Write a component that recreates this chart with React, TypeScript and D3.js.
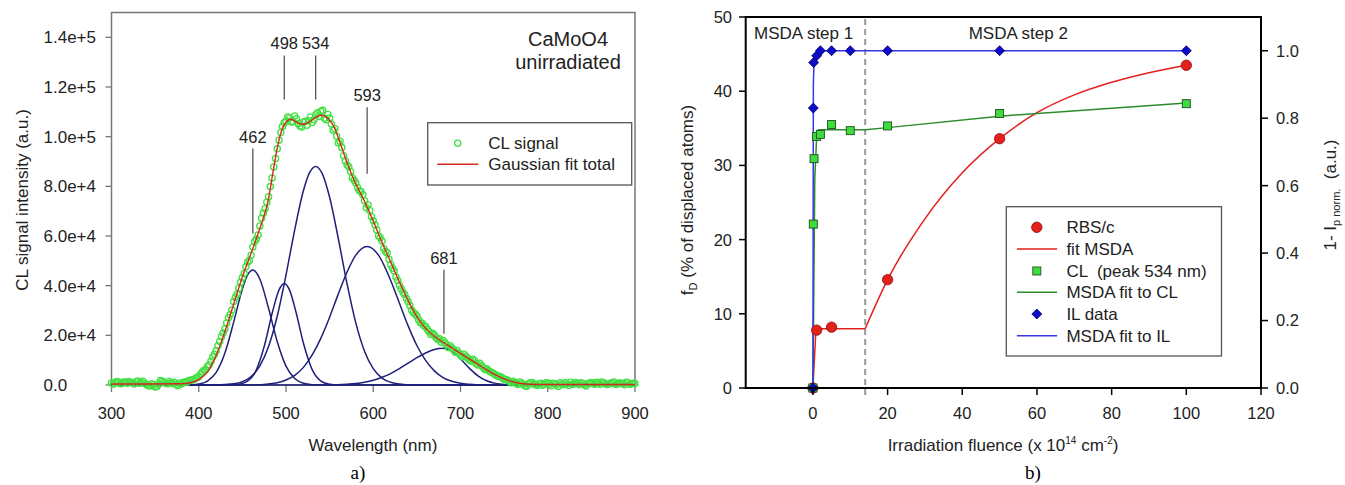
import * as d3 from 'd3';

const FONT = '"Liberation Sans", Arial, Helvetica, sans-serif';

// ── a) CL spectrum, unirradiated CaMoO4 (intensities in units of 1e3 a.u.) ──
// measured points come in two interleaved sweeps: 300, 304, ... and 302, 306, ...
const clWavelength = d3.range(300, 901, 4);
const clIntensity = [
  0.8, 1.0, 1.2, 0.6, 1.1, 1.4, 0.9, 1.3, 0.7, 1.5, 0.2, -0.4, 0.1, -0.6, 1.8, 1.2, 0.5, 0.9, 1.1, -0.3,
  0.4, 1.3, 1.6, 2.0, 2.6, 3.4, 5.2, 6.1, 8.2, 11.3, 13.8, 17.5, 20.9, 25.0, 28.3, 33.6, 36.5, 41.4, 44.9, 49.5,
  52.2, 57.8, 60.4, 67.1, 71.0, 75.8, 83.4, 91.2, 98.6, 104.1, 106.3, 107.5, 106.0, 107.2, 104.3, 105.8, 104.6, 107.9, 106.8, 109.6,
  110.2, 107.4, 108.9, 105.1, 103.2, 97.4, 95.6, 90.2, 87.9, 83.5, 81.3, 78.2, 76.6, 71.4, 70.3, 66.1, 62.4, 59.3, 55.0, 53.2,
  48.4, 45.9, 42.1, 38.8, 36.4, 33.5, 30.1, 28.6, 26.3, 24.9, 23.6, 21.4, 20.8, 19.0, 18.6, 17.9, 16.2, 15.8, 14.2, 13.9,
  12.1, 12.4, 10.9, 9.6, 9.8, 8.1, 7.9, 6.2, 5.8, 5.0, 4.1, 3.5, 2.8, 2.2, 1.4, 1.5, 0.6, 1.2, 0.3, -0.5,
  0.9, 0.4, -0.2, 0.7, 0.2, 0.8, -0.3, 0.5, -0.6, 0.4, 0.9, -0.2, 0.3, 1.0, 0.2, 0.6, -0.4, 0.8, 0.5, 1.1,
  0.3, 0.9, 0.2, 0.7, 1.2, 0.4, 0.8, 0.1, 0.9, 0.5, 0.6,
];
const clWavelengthMid = d3.range(302, 900, 4);
const clIntensityMid = [
  0.3, 1.4, 0.5, 1.2, 0.7, 1.0, 0.4, 1.6, 1.0, 0.6, -0.2, 0.5, -0.8, 0.3, 1.5, 0.7, 1.4, 0.6, 0.2, 0.8,
  0.9, 1.1, 1.9, 2.1, 3.0, 4.3, 5.9, 7.4, 9.6, 12.4, 15.8, 19.4, 22.6, 27.1, 30.2, 35.3, 39.0, 43.2, 47.6, 50.1,
  55.6, 58.7, 64.0, 69.3, 73.6, 79.9, 87.8, 95.1, 101.7, 105.6, 107.9, 105.9, 108.3, 105.2, 103.9, 106.2, 106.4, 105.7, 108.7, 108.1,
  110.6, 106.8, 107.5, 102.6, 100.2, 98.1, 92.3, 88.6, 86.0, 82.4, 79.5, 77.9, 74.2, 72.5, 67.8, 64.5, 60.1, 58.0, 53.8, 50.6,
  47.0, 43.5, 40.2, 37.3, 34.8, 32.0, 29.2, 27.8, 25.1, 23.9, 22.4, 20.3, 20.1, 18.3, 17.2, 17.1, 15.1, 14.9, 13.2, 12.9,
  11.4, 11.6, 10.2, 10.4, 8.6, 8.8, 7.0, 6.5, 5.3, 4.6, 3.6, 3.3, 2.3, 1.9, 0.9, 1.0, 0.2, 0.8, -0.3, 0.5,
  1.0, 0.2, 0.5, -0.1, 0.9, 0.3, 0.7, 0.1, 0.9, 0.2, 0.5, 1.1, 0.4, 0.6, 0.9, 0.1, 0.6, 1.0, 0.3, 0.7,
  1.2, 0.5, 0.4, 1.0, 0.2, 0.8, 0.5, 1.1, 0.3, 0.7,
];

const gaussFitTotal: [number, number][] = [
  [300, 0.4], [340, 0.4], [380, 0.5], [390, 0.9], [400, 2.2], [410, 5.3], [420, 12.0], [430, 21.5],
  [440, 32.5], [450, 43.5], [460, 53], [470, 63], [480, 75], [485, 85.5], [490, 95.5], [495, 102.5],
  [500, 105.8], [505, 107], [510, 106.3], [515, 105.3], [520, 105], [525, 105.6], [530, 106.8], [535, 108],
  [540, 108.6], [545, 108.2], [550, 106.6], [555, 104], [560, 99.5], [565, 94.5], [570, 89.5], [575, 85],
  [580, 81], [585, 77.5], [590, 74], [600, 66], [610, 57.5], [620, 49.5], [630, 41.5], [640, 34],
  [650, 27.5], [660, 22.8], [670, 19.6], [680, 17.2], [690, 15], [700, 12.7], [710, 10.5], [720, 8.3],
  [730, 6.1], [740, 4.1], [750, 2.5], [760, 1.3], [770, 0.6], [780, 0.3], [800, 0.2], [900, 0.2],
];

const peak462: [number, number][] = [
  [300, 0], [390, 0], [400, 0.4], [410, 1.6], [420, 5.1], [430, 12.9], [440, 25.3], [450, 38.7], [456, 44.3],
  [462, 46.3], [470, 42.7], [480, 30.9], [490, 17.4], [500, 7.6], [510, 2.6], [520, 0.7], [530, 0.15], [545, 0], [900, 0],
];
const peak498: [number, number][] = [
  [300, 0], [435, 0], [445, 0.25], [455, 1.4], [465, 5.3], [475, 15.5], [485, 30.1], [492, 38.3], [498, 40.9],
  [504, 38.3], [511, 30], [520, 16.8], [530, 6.2], [540, 1.6], [550, 0.3], [560, 0], [900, 0],
];
const peak534: [number, number][] = [
  [300, 0], [420, 0], [440, 0.46], [450, 1.3], [460, 3.4], [470, 7.7], [480, 15.5], [490, 27.8], [500, 44.3],
  [510, 62.5], [520, 78.3], [527, 85.5], [534, 88], [541, 85.5], [550, 75.6], [560, 58.9], [570, 40.7], [580, 25],
  [590, 13.6], [600, 6.6], [610, 2.8], [620, 1.1], [630, 0.37], [645, 0], [900, 0],
];
const peak593: [number, number][] = [
  [300, 0], [460, 0], [480, 0.4], [490, 0.9], [500, 2], [510, 3.9], [520, 7.1], [530, 12.1], [540, 18.9],
  [550, 27.3], [560, 36.7], [570, 45.5], [580, 52.3], [593, 55.8], [606, 52.3], [620, 42.1], [630, 32.9], [640, 23.8],
  [650, 15.9], [660, 9.9], [670, 5.7], [680, 3], [690, 1.5], [700, 0.67], [710, 0.28], [725, 0], [900, 0],
];
const peak681: [number, number][] = [
  [300, 0], [550, 0], [570, 0.3], [580, 0.6], [590, 1.1], [600, 1.9], [610, 3.1], [620, 4.6], [630, 6.6],
  [640, 8.8], [650, 11], [660, 12.9], [670, 14.3], [680, 14.8], [690, 13.6], [700, 10.5], [710, 6.8], [720, 3.7],
  [730, 1.7], [740, 0.65], [750, 0.2], [765, 0], [900, 0],
];
const gaussPeaks = [peak462, peak498, peak534, peak593, peak681];

// peak labels: centre wavelength, leader line from top to bottom (1e3 a.u.)
const peakLabels = ['462', '498', '534', '593', '681'];
const peakCenters = [462, 498, 534, 593, 681];
const peakLineTop = [95.2, 132.7, 132.7, 111.8, 46.4];
const peakLineBottom = [61, 115, 115, 85.1, 20.6];

const wlTicks = [300, 400, 500, 600, 700, 800, 900];
const intensityTicks = [0, 20, 40, 60, 80, 100, 120, 140];

// ── b) damage accumulation vs fluence (x 1e14 cm^-2) ──
const rbsFluence = [0, 1, 5, 20, 50, 100];
const rbsFD = [0, 7.8, 8.2, 14.6, 33.6, 43.5];
const msdaFitFluence = [0, 0.8, 1.5, 14];
const msdaFitFD = [0, 7.8, 8, 8];
const msdaFit2Fluence = [14, 20, 30, 40, 50, 60, 70, 80, 90, 100];
const msdaFit2FD = [8, 14.6, 22.8, 29.0, 33.6, 37.1, 39.5, 41.2, 42.5, 43.5];

const clFluence = [0, 0.1, 0.3, 1, 2, 5, 10, 20, 50, 100];
const clNorm = [0, 0.486, 0.68, 0.746, 0.752, 0.781, 0.763, 0.777, 0.814, 0.843];
const clFitFluence = [0, 0.5, 1, 1.5, 14, 20, 50, 100];
const clFitNorm = [0, 0.62, 0.745, 0.766, 0.766, 0.772, 0.806, 0.845];

const ilFluence = [0, 0.1, 0.2, 1, 2, 5, 10, 20, 50, 100];
const ilNorm = [0, 0.83, 0.965, 0.985, 1, 1, 1, 1, 1, 1];
const ilFitFluence = [0, 0.12, 0.3, 1, 2, 100];
const ilFitNorm = [0, 0.9, 0.97, 0.99, 1, 1];

const stepBoundary = 14;
const fluenceTicks = [0, 20, 40, 60, 80, 100, 120];
const fdTicks = [0, 10, 20, 30, 40, 50];
const normTicks = [0, 0.2, 0.4, 0.6, 0.8, 1.0];

const zip = (xs: number[], ys: number[]) => xs.map((x, i) => [x, ys[i]] as [number, number]);

function SpectrumPanel() {
  const x = d3.scaleLinear().domain([300, 900]).range([111.5, 635]);
  const y = d3.scaleLinear().domain([0, 150]).range([385, 12.5]);
  const line = d3.line<[number, number]>().x(d => x(d[0])).y(d => y(d[1])).curve(d3.curveMonotoneX);
  const fmtY = (v: number) => (v === 0 ? '0.0' : d3.format('.1e')(v * 1000));
  const axisCol = '#777';
  const points = [...zip(clWavelength, clIntensity), ...zip(clWavelengthMid, clIntensityMid)];

  return (
    <g fontFamily={FONT}>
      <rect x={x(300)} y={y(150)} width={x(900) - x(300)} height={y(0) - y(150)} fill="none" stroke={axisCol} strokeWidth={1.5} />
      {intensityTicks.map(t => (
        <g key={'y' + t}>
          <line x1={x(300) - 6} x2={x(300)} y1={y(t)} y2={y(t)} stroke={axisCol} strokeWidth={1.3} />
          <text x={43.5} y={y(t)} dy="0.36em" textAnchor="start" fontSize={17} fill="#222">{fmtY(t)}</text>
        </g>
      ))}
      {wlTicks.map(t => (
        <g key={'x' + t}>
          <line x1={x(t)} x2={x(t)} y1={y(0)} y2={y(0) + 7} stroke={axisCol} strokeWidth={1.3} />
          <text x={x(t)} y={419} textAnchor="middle" fontSize={16.5} fill="#222">{t}</text>
        </g>
      ))}

      {gaussPeaks.map((p, i) => (
        <path key={'g' + i} d={line(p) ?? ''} fill="none" stroke="#1f1f7a" strokeWidth={1.5} />
      ))}
      {points.filter(p => p[1] !== undefined).map((p, i) => (
        <circle key={'c' + i} cx={x(p[0])} cy={y(p[1])} r={3.1} fill="none" stroke="#42e042" strokeWidth={1.3} />
      ))}
      <path d={line(gaussFitTotal) ?? ''} fill="none" stroke="#d42a1e" strokeWidth={1.4} />

      {peakLabels.map((lab, i) => (
        <g key={'p' + lab}>
          <line x1={x(peakCenters[i])} x2={x(peakCenters[i])} y1={y(peakLineTop[i])} y2={y(peakLineBottom[i])} stroke="#555" strokeWidth={1.3} />
          <text x={x(peakCenters[i])} y={y(peakLineTop[i]) - 6} textAnchor="middle" fontSize={16.5} fill="#222">{lab}</text>
        </g>
      ))}

      <text x={568} y={46} textAnchor="middle" fontSize={20} fill="#222">CaMoO4</text>
      <text x={568} y={69} textAnchor="middle" fontSize={20} fill="#222">unirradiated</text>

      <rect x={427.7} y={122.7} width={204} height={62.3} fill="#fff" stroke="#555" strokeWidth={1.3} />
      <circle cx={457.7} cy={143.3} r={3.1} fill="none" stroke="#42e042" strokeWidth={1.3} />
      <text x={488.3} y={143.3} dy="0.36em" fontSize={17} fill="#222">CL signal</text>
      <line x1={437.3} x2={478.3} y1={164.3} y2={164.3} stroke="#d42a1e" strokeWidth={1.6} />
      <text x={488.3} y={164.3} dy="0.36em" fontSize={17} fill="#222">Gaussian fit total</text>

      <text transform="translate(28,200) rotate(-90)" textAnchor="middle" fontSize={17} fill="#222">CL signal intensity (a.u.)</text>
      <text x={373} y={451} textAnchor="middle" fontSize={17} fill="#222">Wavelength (nm)</text>
      <text x={358} y={479} textAnchor="middle" fontSize={19} fontFamily='"Liberation Serif", "Times New Roman", serif' fill="#000">a)</text>
    </g>
  );
}

function DamagePanel() {
  const x = d3.scaleLinear().domain([-18, 120]).range([745.7, 1261]);
  const yL = d3.scaleLinear().domain([0, 50]).range([388, 17]);
  const yR = d3.scaleLinear().domain([0, 1.1]).range([388, 17]);
  const lineL = d3.line<[number, number]>().x(d => x(d[0])).y(d => yL(d[1]));
  const lineLcurve = d3.line<[number, number]>().x(d => x(d[0])).y(d => yL(d[1])).curve(d3.curveMonotoneX);
  const lineR = d3.line<[number, number]>().x(d => x(d[0])).y(d => yR(d[1]));

  const red = '#e3201b', redDark = '#8a0d0a';
  const green = '#3fdc3f', greenDark = '#1c4f1c', greenLine = '#2c8c2c';
  const blue = '#0b0bc8', blueDark = '#000070', blueLine = '#3636e6';
  const diamond = (cx: number, cy: number, s: number) => `M${cx},${cy - s}L${cx + s},${cy}L${cx},${cy + s}L${cx - s},${cy}Z`;

  const legendRows = [227.3, 249, 271, 292.3, 314, 335.7];
  const symX = 1036.8, textX = 1066.4;

  return (
    <g fontFamily={FONT}>
      <line x1={x(stepBoundary)} x2={x(stepBoundary)} y1={19} y2={397} stroke="#999" strokeWidth={2} strokeDasharray="6,4" />

      <path d={lineL(zip(msdaFitFluence, msdaFitFD)) ?? ''} fill="none" stroke={red} strokeWidth={1.5} />
      <path d={lineLcurve(zip(msdaFit2Fluence, msdaFit2FD)) ?? ''} fill="none" stroke={red} strokeWidth={1.5} />
      <path d={lineR(zip(clFitFluence, clFitNorm)) ?? ''} fill="none" stroke={greenLine} strokeWidth={1.5} />
      <path d={lineR(zip(ilFitFluence, ilFitNorm)) ?? ''} fill="none" stroke={blueLine} strokeWidth={1.5} />

      {rbsFluence.map((f, i) => (
        <circle key={'r' + i} cx={x(f)} cy={yL(rbsFD[i])} r={5.2} fill={red} stroke={redDark} strokeWidth={0.8} />
      ))}
      {clFluence.map((f, i) => (
        <rect key={'s' + i} x={x(f) - 4} y={yR(clNorm[i]) - 4} width={8} height={8} fill={green} stroke={greenDark} strokeWidth={0.9} />
      ))}
      {ilFluence.map((f, i) => (
        <path key={'d' + i} d={diamond(x(f), yR(ilNorm[i]), 5)} fill={blue} stroke={blueDark} strokeWidth={0.8} />
      ))}

      <rect x={745.7} y={17} width={1261 - 745.7} height={371} fill="none" stroke="#000" strokeWidth={2} />
      {fdTicks.map(t => (
        <g key={'l' + t}>
          <line x1={739} x2={745.7} y1={yL(t)} y2={yL(t)} stroke="#000" strokeWidth={1.5} />
          <text x={732} y={yL(t)} dy="0.36em" textAnchor="end" fontSize={16.5} fill="#222">{t}</text>
        </g>
      ))}
      {normTicks.map(t => (
        <g key={'rt' + t}>
          <line x1={1261} x2={1268} y1={yR(t)} y2={yR(t)} stroke="#000" strokeWidth={1.5} />
          <text x={1276} y={yR(t)} dy="0.36em" textAnchor="start" fontSize={16.5} fill="#222">{d3.format('.1f')(t)}</text>
        </g>
      ))}
      {fluenceTicks.map(t => (
        <g key={'b' + t}>
          <line x1={x(t)} x2={x(t)} y1={388} y2={395} stroke="#000" strokeWidth={1.5} />
          <text x={x(t)} y={419} textAnchor="middle" fontSize={16.5} fill="#222">{t}</text>
        </g>
      ))}

      <text x={754} y={39} fontSize={17} fill="#222">MSDA step 1</text>
      <text x={x(55)} y={39} textAnchor="middle" fontSize={17} fill="#222">MSDA step 2</text>

      <rect x={1006.3} y={206.7} width={215.2} height={149.3} fill="#fff" stroke="#555" strokeWidth={1.3} />
      <circle cx={symX} cy={legendRows[0]} r={5.2} fill={red} stroke={redDark} strokeWidth={0.8} />
      <text x={textX} y={legendRows[0]} dy="0.36em" fontSize={17} fill="#222">RBS/c</text>
      <line x1={1016.9} x2={1057.1} y1={legendRows[1]} y2={legendRows[1]} stroke={red} strokeWidth={1.5} />
      <text x={textX} y={legendRows[1]} dy="0.36em" fontSize={17} fill="#222">fit MSDA</text>
      <rect x={symX - 4} y={legendRows[2] - 4} width={8} height={8} fill={green} stroke={greenDark} strokeWidth={0.9} />
      <text x={textX} y={legendRows[2]} dy="0.36em" fontSize={17} fill="#222" style={{ whiteSpace: 'pre' }}>{'CL  (peak 534 nm)'}</text>
      <line x1={1016.9} x2={1057.1} y1={legendRows[3]} y2={legendRows[3]} stroke={greenLine} strokeWidth={1.5} />
      <text x={textX} y={legendRows[3]} dy="0.36em" fontSize={17} fill="#222">MSDA fit to CL</text>
      <path d={diamond(symX, legendRows[4], 5)} fill={blue} stroke={blueDark} strokeWidth={0.8} />
      <text x={textX} y={legendRows[4]} dy="0.36em" fontSize={17} fill="#222">IL data</text>
      <line x1={1016.9} x2={1057.1} y1={legendRows[5]} y2={legendRows[5]} stroke={blueLine} strokeWidth={1.5} />
      <text x={textX} y={legendRows[5]} dy="0.36em" fontSize={17} fill="#222">MSDA fit to IL</text>

      <text transform="translate(693,200) rotate(-90)" textAnchor="middle" fontSize={17} fill="#222">
        f<tspan fontSize={11} dy={4}>D</tspan><tspan dy={-4}> (% of displaced atoms)</tspan>
      </text>
      <text transform="translate(1336,195) rotate(-90)" textAnchor="middle" fontSize={17} fill="#222">
        1- I<tspan fontSize={11} dy={4}>p norm.</tspan><tspan dy={-4} style={{ whiteSpace: 'pre' }}>{'  (a.u.)'}</tspan>
      </text>
      <text x={1003} y={451} textAnchor="middle" fontSize={17} fill="#222">
        Irradiation fluence (x 10<tspan fontSize={10} dy={-7}>14</tspan><tspan dy={7}> cm</tspan><tspan fontSize={10} dy={-7}>-2</tspan><tspan dy={7}>)</tspan>
      </text>
      <text x={1033} y={479} textAnchor="middle" fontSize={19} fontFamily='"Liberation Serif", "Times New Roman", serif' fill="#000">b)</text>
    </g>
  );
}

export default function App() {
  return (
    <svg width={1345} height={485} style={{ position: 'absolute', left: 0, top: 0, background: '#fff' }}>
      <rect width={1345} height={485} fill="#fff" />
      <SpectrumPanel />
      <DamagePanel />
    </svg>
  );
}
